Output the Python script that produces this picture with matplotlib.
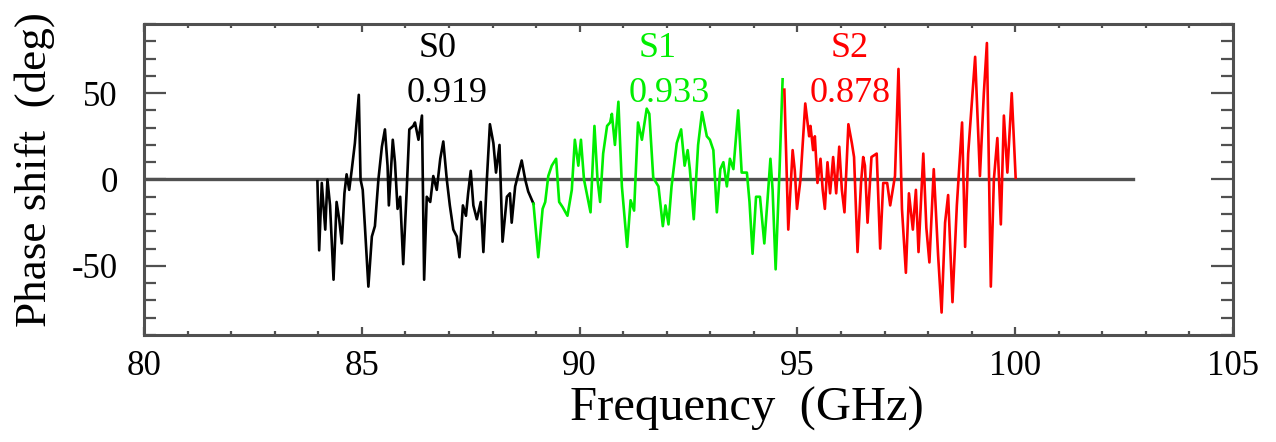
import matplotlib
matplotlib.use("Agg")
import matplotlib.pyplot as plt
from matplotlib.ticker import MultipleLocator

plt.rcParams['font.family'] = ['Liberation Serif', 'DejaVu Serif']
plt.rcParams['axes.unicode_minus'] = False

# ---- data (frequency in GHz, phase shift in deg) ----
s0_freq = [83.98, 84.02, 84.08, 84.16, 84.21, 84.27, 84.35, 84.42, 84.48, 84.54,
           84.60, 84.65, 84.71, 84.77, 84.84, 84.93, 84.97, 85.02, 85.07, 85.15,
           85.23, 85.30, 85.38, 85.46, 85.53, 85.59, 85.62, 85.71, 85.76, 85.82,
           85.88, 85.95, 86.03, 86.09, 86.18, 86.22, 86.30, 86.38, 86.43, 86.49,
           86.57, 86.64, 86.72, 86.80, 86.87, 86.95, 87.02, 87.10, 87.18, 87.24,
           87.32, 87.39, 87.44, 87.50, 87.56, 87.64, 87.73, 87.79, 87.87, 87.94,
           88.02, 88.08, 88.16, 88.23, 88.33, 88.40, 88.44, 88.52, 88.67, 88.75,
           88.82, 88.94]
s0_phase = [-1, -41, -2, -29, 0, -15, -58, -13, -23, -37,
            -8, 3, -6, 6, 21, 49, 0, -6, -27, -62,
            -33, -27, 0, 19, 29, 8, -15, 23, 10, -17,
            -10, -49, -6, 29, 31, 33, 23, 37, -58, -10,
            -13, 2, -6, 12, 22, 0, -15, -29, -33, -45,
            -15, -21, -8, 5, -15, -23, -13, -42, 0, 32,
            21, 4, 20, -36, -10, -8, -25, -4, 11, 0,
            -7, -14]

s1_freq = [88.94, 89.05, 89.15, 89.21, 89.28, 89.36, 89.46, 89.53, 89.61, 89.72,
           89.82, 89.89, 89.97, 90.03, 90.10, 90.25, 90.34, 90.41, 90.47, 90.54,
           90.63, 90.70, 90.74, 90.81, 90.89, 90.97, 91.09, 91.17, 91.25, 91.34,
           91.43, 91.54, 91.60, 91.69, 91.81, 91.91, 91.97, 92.04, 92.11, 92.23,
           92.33, 92.41, 92.48, 92.53, 92.62, 92.72, 92.81, 92.92, 92.99, 93.07,
           93.15, 93.23, 93.30, 93.38, 93.45, 93.53, 93.64, 93.72, 93.84, 93.90,
           93.97, 94.05, 94.14, 94.24, 94.31, 94.38, 94.43, 94.50, 94.59, 94.66]
s1_phase = [-14, -45, -17, -13, 2, 8, 12, -13, -16, -21,
            -6, 23, 8, 23, 0, -19, 31, 0, -13, 15,
            31, 33, 38, 20, 45, -4, -39, -12, -18, 33,
            23, 41, 38, 1, -4, -27, -15, -26, -4, 21,
            29, 8, 17, 6, -23, 20, 39, 25, 23, 17,
            -19, 6, 10, -4, 12, 6, 40, 4, 4, -13,
            -43, -10, -10, -37, -13, 12, -6, -52, 6, 58]

s2_freq = [94.70, 94.79, 94.89, 94.94, 94.99, 95.07, 95.18, 95.27, 95.30, 95.36,
           95.40, 95.46, 95.53, 95.58, 95.63, 95.69, 95.75, 95.82, 95.89, 95.96,
           96.02, 96.08, 96.17, 96.25, 96.30, 96.38, 96.46, 96.51, 96.55, 96.61,
           96.70, 96.82, 96.90, 96.97, 97.06, 97.13, 97.24, 97.32, 97.40, 97.49,
           97.56, 97.65, 97.72, 97.78, 97.89, 97.96, 98.03, 98.13, 98.23, 98.31,
           98.39, 98.46, 98.56, 98.66, 98.78, 98.85, 98.92, 99.08, 99.19, 99.28,
           99.35, 99.44, 99.51, 99.59, 99.67, 99.74, 99.82, 99.92, 100.01]
s2_phase = [52, -29, 17, 5, -17, 0, 44, 25, 31, 17,
            25, -2, 12, -6, -17, 10, -8, 13, -8, 19,
            -6, -19, 32, 21, 13, -42, -2, 13, 8, -25,
            13, 15, -40, -2, -2, -15, 2, 64, -17, -54,
            -8, -29, -6, -42, 15, -28, -48, 6, -44, -77,
            -25, -9, -71, -15, 33, -39, 15, 71, 2, 50,
            79, -62, 0, 24, -26, 37, 4, 50, 1]

labels = ["S0", "S1", "S2"]
corr_values = ["0.919", "0.933", "0.878"]
label_freq = [86.73, 91.80, 96.21]
value_freq = [86.96, 92.05, 96.21]
colors = ["black", "#00ee00", "#ff0000"]

zero_line_x = [80, 102.7]
zero_line_y = [0, 0]

# ---- figure ----
fig = plt.figure(figsize=(12.76, 4.42), dpi=100)
ax = fig.add_axes([0.1129, 0.2421, 0.8534, 0.7036])

ax.plot(zero_line_x, zero_line_y, color="#505050", lw=2.4, zorder=1)
for fx, ph, c in zip([s0_freq, s1_freq, s2_freq], [s0_phase, s1_phase, s2_phase], colors):
    ax.plot(fx, ph, color=c, lw=1.9, zorder=2)

for lab, val, lf, vf, c in zip(labels, corr_values, label_freq, value_freq, colors):
    ax.text(lf, 76, lab, color=c, fontsize=26, ha="center", va="center")
    ax.text(vf, 50, val, color=c, fontsize=26, ha="center", va="center")

ax.set_xlim(80, 105)
ax.set_ylim(-90, 90)
ax.xaxis.set_major_locator(MultipleLocator(5))
ax.xaxis.set_minor_locator(MultipleLocator(1))
ax.set_yticks([-50, 0, 50])
ax.yaxis.set_minor_locator(MultipleLocator(10))

ax.tick_params(axis="both", which="both", direction="in", top=True, right=True,
               color="#505050", width=1.6, labelsize=25)
ax.tick_params(axis="x", which="major", length=6, pad=11)
ax.tick_params(axis="x", which="minor", length=3)
ax.tick_params(axis="y", which="major", length=16, pad=19)
ax.tick_params(axis="y", which="minor", length=8.5)

for sp in ax.spines.values():
    sp.set_color("#505050")
    sp.set_linewidth(2.2)

ax.set_xlabel("Frequency  (GHz)", fontsize=35)
ax.set_ylabel("Phase shift  (deg)", fontsize=32.5)
ax.xaxis.set_label_coords(0.554, -0.168)
ax.yaxis.set_label_coords(-0.082, 0.531)

fig.savefig("out.png", dpi=100)
